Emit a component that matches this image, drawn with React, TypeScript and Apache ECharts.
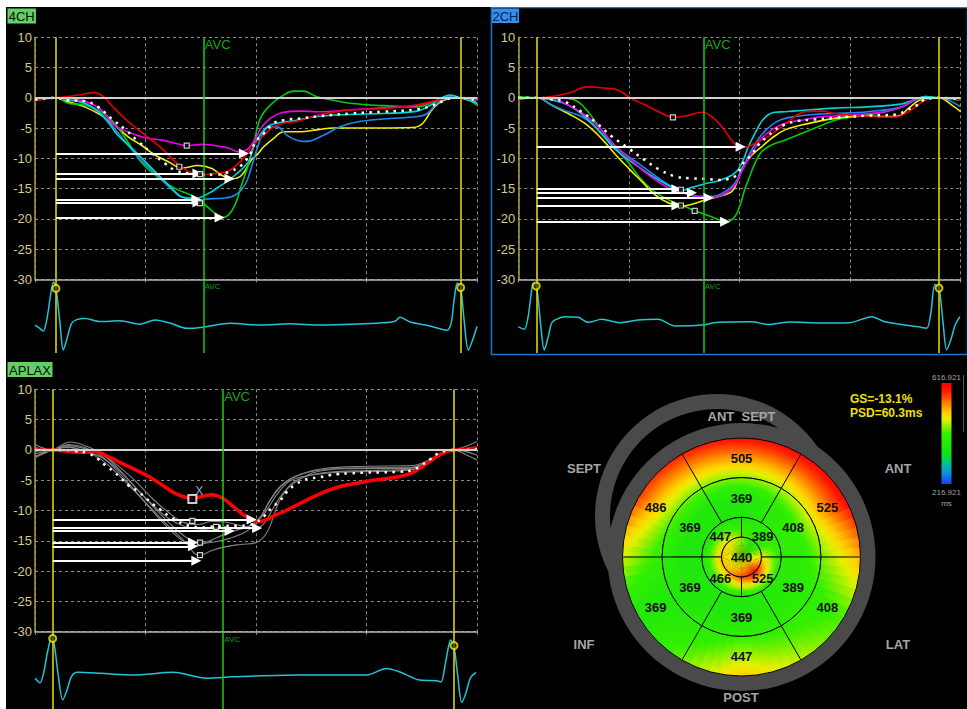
import React, { useEffect, useRef } from 'react';
import * as echarts from 'echarts';

type Pt = [number, number];

// ================= 4CH =================
const FOUR_RWAVE = [19, 385.2];
const FOUR_AVC = 152.3;
const fourRed: Pt[] = [[0,-0.4],[10,-0.2],[19,0],[30,0.2],[39,0.45],[54,0.85],[62,0.2],[69,-1.2],[81,-3.4],[100,-6.2],[115,-8.4],[127,-10.6],[139,-12.2],[151,-12.7],[163,-12.5],[175,-12.1],[187,-10.3],[198,-7.8],[207,-6.2],[216,-4.8],[225,-4.2],[237,-3.9],[255,-2.9],[285,-2.0],[315,-1.8],[345,-1.2],[364,-0.4],[376,0],[385,0],[400,-0.2]];
const fourMagenta: Pt[] = [[0,-0.4],[19,0],[30,-0.2],[45,-0.55],[60,-2.0],[72,-4.5],[84,-5.6],[100,-6.6],[115,-7.0],[127,-7.5],[137,-7.9],[151,-7.7],[163,-7.9],[175,-8.3],[184,-8.9],[193,-8.4],[201,-6.2],[204,-5.1],[213,-3.4],[225,-2.4],[240,-2.2],[255,-2.3],[285,-2.0],[315,-1.65],[345,-1.3],[364,-0.4],[376,0],[385,0],[400,-0.4]];
const fourYellow: Pt[] = [[0,-0.3],[19,0],[30,-0.66],[45,-1.5],[60,-2.9],[72,-4.5],[84,-6.4],[96,-7.8],[109,-9.5],[121,-10.6],[133,-11.6],[148,-11.2],[160,-11.7],[169,-12.8],[178,-13.4],[187,-12.8],[196,-10.2],[201,-9.4],[207,-8.1],[216,-6.7],[225,-5.6],[240,-5.6],[255,-5.3],[270,-5.0],[300,-5.0],[342,-4.9],[351,-4.2],[360,-1.8],[370,-0.4],[385,0],[400,-0.9]];
const fourCyan: Pt[] = [[0,-0.3],[19,0],[30,-0.2],[45,-0.9],[57,-2.3],[66,-4.0],[75,-6.2],[88,-8.4],[100,-10.6],[112,-12.8],[124,-15.0],[133,-16.4],[145,-16.6],[157,-15.8],[169,-14.4],[181,-12.8],[193,-10.6],[197,-8.6],[201,-6.9],[210,-4.8],[219,-4.2],[231,-3.9],[255,-3.1],[285,-2.75],[315,-2.6],[346,-2.2],[358,-1.2],[370,0.16],[376,0.44],[385,0],[400,-0.9]];
const fourBlue: Pt[] = [[0,-0.5],[19,0],[30,-0.4],[45,-0.9],[60,-2.6],[72,-5.1],[84,-7.8],[96,-10.3],[109,-12.5],[121,-14.7],[133,-16.4],[145,-16.9],[157,-16.7],[169,-16.6],[181,-16.1],[190,-14.4],[195,-12],[201,-8.4],[207,-5.6],[213,-4.8],[219,-4.8],[228,-6.2],[237,-7.0],[246,-7.2],[261,-6.2],[276,-4.8],[291,-4.0],[315,-3.5],[346,-3.1],[355,-2.6],[364,-0.9],[376,0.16],[385,0],[400,-0.4]];
const fourGreen: Pt[] = [[0,-0.3],[19,0],[30,-0.9],[45,-1.2],[60,-2.3],[72,-4.2],[84,-7.3],[96,-10.6],[109,-12.8],[121,-14.4],[133,-15.5],[145,-16.4],[154,-17.7],[163,-19.1],[169,-19.8],[175,-19.4],[181,-17.7],[187,-14.4],[193,-11.1],[198,-7.5],[204,-3.4],[213,-1.2],[225,0.44],[234,1.1],[243,1.1],[255,0.17],[270,-0.4],[285,-0.9],[315,-1.3],[346,-1.5],[364,-0.4],[376,0],[385,0],[400,-1.2]];
const fourAvg: Pt[] = [[0,-0.3],[19,0],[30,-0.4],[45,-0.55],[57,-1.5],[69,-3.4],[82,-5.3],[94,-7.3],[106,-9.2],[118,-10.9],[127,-12.0],[139,-12.5],[151,-12.7],[163,-12.7],[175,-12.3],[187,-11.1],[196,-8.9],[199,-7.4],[207,-5.9],[216,-4.2],[225,-3.7],[240,-3.4],[255,-3.1],[285,-2.6],[315,-2.3],[346,-1.9],[361,-1.2],[376,-0.1],[385,0],[400,-0.4]];
// [peak strain, time of peak]
const fourArrows: Pt[] = [[-9.2,189],[-12.5,147],[-13.4,176],[-16.8,146],[-17.3,147],[-19.8,167]];
const fourMarkers: Pt[] = [[137.3,-7.9],[130.6,-11.4],[149.3,-12.6],[149.3,-17.4]];
const fourEcg: Pt[] = [[0,-0.1],[4,-0.2],[7.5,-0.3],[11,0.15],[14.5,1.0],[16.8,1.33],[19,1.12],[22.5,0.0],[25.6,-0.93],[29,-0.55],[33,-0.05],[37.7,0.08],[45,0.12],[58.8,0.02],[77,0.04],[95,-0.07],[108.6,0.07],[122,-0.03],[137.3,-0.21],[152,-0.17],[176.5,-0.04],[203.6,-0.1],[230.8,-0.06],[258,-0.1],[285,-0.07],[312,-0.03],[325.8,0.03],[330.3,0.16],[339.4,0],[357.5,-0.13],[372.6,-0.27],[376.5,-0.05],[379.5,0.8],[382.2,1.3],[385.2,1.15],[388.5,0.0],[392.1,-0.93],[396,-0.6],[400,-0.15]];
const fourEcgMarks: Pt[] = [[19,1.12],[385.2,1.15]];

// ================= 2CH =================
const TWO_RWAVE = [16.6, 380.4];
const TWO_AVC = 167.3;
const twoRed: Pt[] = [[0,0],[17,0],[30,0.2],[45,0.74],[63,1.8],[78,1.6],[90,1.3],[102,-0.1],[115,-1.2],[127,-2.3],[140,-3.2],[151,-3.0],[166,-2.4],[175,-3.1],[184,-4.8],[193,-7.0],[199,-8.1],[205,-8.2],[214,-7.5],[226,-6.4],[238,-4.8],[250,-3.1],[259,-2.3],[274,-2.2],[286,-2.6],[316,-3.1],[341,-3.2],[350,-2.6],[359,-1.5],[368,-0.36],[380,0],[400,-0.4]];
const twoGreen: Pt[] = [[0,0.2],[17,0],[45,-0.1],[54,-0.64],[63,-2.3],[75,-5.3],[87,-8.1],[100,-10.8],[109,-13.0],[121,-15.2],[136,-16.9],[151,-18.0],[166,-19.1],[181,-20.1],[188,-20.5],[196,-19.6],[201,-17.5],[205,-15],[208,-13.6],[214,-10.8],[220,-8.9],[229,-7.8],[241,-7.0],[256,-5.9],[271,-4.8],[286,-3.7],[301,-3.2],[316,-2.8],[332,-2.3],[347,-1.5],[359,-0.36],[368,0.2],[380,0],[400,-0.4]];
const twoCyan: Pt[] = [[0,-0.2],[17,0],[30,-0.36],[45,-1.2],[60,-3.1],[75,-5.9],[87,-8.4],[100,-10.3],[115,-12.2],[127,-13.6],[139,-14.8],[148,-15.3],[157,-14.8],[169,-14.2],[181,-13.7],[193,-12.8],[199,-11.8],[204,-10],[208,-8.1],[214,-5.9],[220,-3.9],[226,-2.8],[232,-2.4],[241,-2.3],[256,-2.1],[286,-1.7],[316,-1.5],[347,-1.0],[359,-0.25],[368,0.2],[380,0],[400,-0.1]];
const twoBlue: Pt[] = [[0,-0.25],[17,0],[30,-1.2],[45,-2.3],[57,-3.1],[66,-4.2],[78,-6.4],[90,-8.4],[102,-10.0],[115,-11.7],[127,-13.3],[139,-14.7],[151,-15.8],[163,-16.3],[175,-16.3],[187,-15.5],[196,-14.1],[202,-11.9],[211,-8.6],[220,-6.1],[229,-4.5],[238,-3.6],[250,-3.1],[271,-2.7],[286,-2.6],[316,-2.3],[347,-1.5],[359,-0.36],[380,0],[400,-1.5]];
const twoMagenta: Pt[] = [[0,-0.1],[17,0],[30,-0.1],[45,-1.2],[60,-2.8],[75,-5.3],[87,-7.8],[100,-10.0],[112,-11.9],[124,-13.6],[136,-14.9],[151,-15.8],[163,-16.3],[172,-16.6],[184,-16.1],[193,-15.0],[198,-13.8],[202,-12.2],[211,-9.2],[220,-6.7],[229,-5.3],[241,-4.2],[256,-3.7],[271,-3.2],[286,-3.0],[301,-2.8],[316,-2.6],[332,-2.3],[347,-1.5],[362,-0.1],[380,0],[400,0]];
const twoYellow: Pt[] = [[0,0],[17,0],[30,-1.2],[45,-2.6],[60,-4.2],[75,-6.7],[87,-9.2],[100,-11.7],[112,-13.9],[124,-16.1],[136,-17.4],[148,-17.9],[157,-17.6],[169,-16.9],[181,-16.3],[193,-15.5],[198,-13.8],[202,-11.7],[211,-9.5],[220,-8.1],[229,-6.7],[241,-5.3],[256,-4.5],[271,-3.9],[286,-3.4],[301,-3.1],[316,-3.0],[332,-3.1],[344,-3.0],[353,-1.7],[365,-0.25],[380,0],[392,-1.2],[400,-2.3]];
const twoAvg: Pt[] = [[0,0],[17,0],[30,-0.25],[42,-0.64],[57,-2.3],[71,-4.2],[84,-6.3],[100,-8.4],[113,-10.1],[127,-11.8],[142,-13.0],[155,-13.3],[169,-13.4],[183,-13.6],[190,-13.4],[197,-12.8],[204,-10.6],[210,-9.6],[217,-7.8],[225,-6.4],[232,-5.3],[240,-4.5],[253,-3.8],[267,-3.6],[286,-3.3],[316,-2.95],[344,-2.7],[350,-2.1],[359,-1.4],[365,-0.5],[372,-0.1],[380,0],[400,-0.25]];
const twoArrows: Pt[] = [[-8.1,201],[-15.1,143],[-15.7,157],[-16.5,172],[-17.8,143],[-20.5,187]];
const twoMarkers: Pt[] = [[139.8,-3.25],[147,-15.2],[147,-17.8],[159.5,-18.7]];
const twoEcg: Pt[] = [[0,-0.16],[5.4,-0.24],[9,0.2],[11.5,0.9],[13.6,1.29],[16.6,1.15],[20,0.0],[23.5,-0.93],[27,-0.5],[30,-0.05],[33.2,0.07],[42.2,0.18],[54,0.16],[63.3,-0.01],[75.4,0.09],[92,-0.02],[108.2,0.07],[126.3,0.09],[141.7,-0.13],[165.8,-0.1],[180.5,-0.01],[211,0.01],[226,-0.08],[245.6,0],[272.5,-0.03],[299.7,-0.02],[319.5,0.18],[331.5,0.01],[361.6,-0.16],[369.2,-0.21],[373,0.3],[376.7,1.25],[380.4,1.13],[384,0.0],[387.3,-0.93],[391,-0.6],[395,-0.1],[399.3,0.18]];
const twoEcgMarks: Pt[] = [[16.2,1.2],[380.4,1.13]];

// ================= APLAX =================
const APLAX_RWAVE = [16, 379.2];
const APLAX_AVC = 169.9;
const aplaxGrey1: Pt[] = [[0,-1.1],[16,0],[30,0.4],[45,-0.2],[60,-1.6],[75,-4.0],[90,-6.8],[105,-9.6],[120,-12.4],[135,-15.0],[149,-17.4],[160,-16.6],[172,-16.0],[186,-15.6],[200,-15.3],[210,-13.6],[221,-8.5],[232,-5.6],[245,-4.4],[265,-3.7],[300,-3.4],[340,-3.2],[355,-2.2],[370,-0.5],[379,0],[390,-0.8],[400,-1.65]];
const aplaxGrey2: Pt[] = [[0,-0.6],[16,0],[32,1.3],[45,0.7],[60,-0.6],[75,-3.0],[90,-6.0],[105,-9.0],[120,-11.8],[135,-14.2],[149,-15.4],[162,-15.2],[176,-14.6],[190,-13.6],[202,-11.8],[212,-8.5],[222,-6.0],[235,-4.4],[255,-3.4],[290,-3.0],[340,-2.9],[355,-2.0],[370,-0.4],[379,0],[390,0.6],[400,1.4]];
const aplaxGrey3: Pt[] = [[0,0.4],[16,0],[30,0.9],[45,0.4],[60,-1.0],[75,-3.6],[90,-6.6],[105,-9.8],[120,-12.8],[135,-15.2],[145,-15.9],[158,-15.0],[172,-13.9],[186,-13.0],[196,-12.4],[205,-10.8],[214,-8.0],[225,-5.6],[240,-4.0],[260,-3.1],[300,-2.7],[340,-2.6],[355,-1.8],[370,-0.3],[379,0],[400,0.4]];
const aplaxGrey4: Pt[] = [[0,0.9],[16,0],[30,0.7],[45,0.2],[60,-0.7],[75,-2.6],[90,-5.0],[105,-7.8],[120,-10.2],[135,-12.0],[148,-12.3],[160,-11.8],[172,-11.9],[186,-12.5],[200,-12.9],[207,-12.2],[215,-9.8],[225,-7.0],[238,-5.0],[255,-3.6],[280,-3.1],[340,-3.0],[355,-2.1],[370,-0.6],[379,0],[400,0.1]];
const aplaxGrey5: Pt[] = [[0,-1.3],[16,0],[30,0.5],[45,-0.2],[60,-1.2],[75,-3.2],[90,-6.0],[105,-8.8],[120,-11.2],[135,-12.6],[150,-13.1],[163,-13.3],[176,-13.4],[188,-13.0],[198,-12.2],[208,-10.4],[218,-7.6],[230,-5.2],[248,-4.2],[275,-3.7],[320,-3.5],[345,-3.2],[358,-2.0],[370,-0.5],[379,0],[400,-0.9]];
const aplaxRed: Pt[] = [[0,0],[16,0],[30,-0.28],[42,-0.4],[54,-0.28],[63,-0.8],[75,-1.9],[91,-3.3],[103,-4.4],[115,-5.8],[127,-7.2],[136,-7.8],[142,-8.0],[151,-7.7],[160,-7.4],[169,-7.9],[178,-9.1],[187,-10.5],[196,-11.5],[201,-11.8],[207,-11.7],[216,-10.9],[225,-10.2],[237,-9.1],[249,-8.0],[261,-7.0],[273,-6.2],[285,-5.7],[300,-5.2],[315,-4.8],[330,-4.4],[342,-3.7],[355,-2.2],[367,-0.7],[379,0],[391,0.1],[400,0.4]];
const aplaxAvg: Pt[] = [[0,0],[16,0],[27,0],[36,-0.17],[48,-0.55],[57,-1.5],[64,-2.6],[72,-3.7],[78,-4.7],[85,-5.9],[93,-6.8],[100,-7.9],[107,-9.0],[114,-9.9],[121,-10.9],[128,-11.6],[135,-12.3],[142,-12.6],[149,-12.8],[157,-12.7],[164,-12.6],[172,-12.5],[186,-12.5],[193,-12.4],[199,-12.1],[207,-11.0],[214,-9.6],[222,-8.3],[228,-6.9],[235,-5.8],[243,-5.0],[250,-4.7],[258,-4.5],[266,-4.2],[273,-4.0],[285,-3.86],[300,-3.75],[315,-3.7],[330,-3.6],[342,-3.3],[350,-2.5],[358,-1.5],[365,-0.55],[373,-0.1],[379,0],[390,0],[400,0.1]];
const aplaxArrows: Pt[] = [[-11.5,196],[-12.9,201],[-13.4,176],[-15.3,143],[-15.9,143],[-18.3,146]];
const aplaxMarkers: Pt[] = [[142.4,-11.7],[163.8,-12.7],[149.3,-15.3],[149.3,-17.35]];
const aplaxSelected: Pt[] = [[142.4,-8.1]];
const aplaxEcg: Pt[] = [[0,-0.11],[4.5,-0.26],[8,0.1],[11.5,0.8],[15.1,1.25],[17.5,1.0],[21,0.0],[25.1,-0.83],[29,-0.5],[33,-0.05],[38.3,0.09],[58.8,0.06],[88.7,0],[125.2,0.09],[155.4,-0.11],[179.5,-0.06],[239.8,0],[300.2,0],[318.3,0.22],[330.3,0.1],[348.4,-0.17],[363.5,-0.19],[367.4,-0.23],[371,0.3],[374,0.9],[376.2,1.17],[379.2,0.95],[382.5,0.0],[386.2,-0.91],[390,-0.6],[394,-0.1],[399.1,0.09]];
const aplaxEcgMarks: Pt[] = [[16,1.22],[379.2,0.98]];

// ================= Bull's eye =================
const BASAL = [525, 505, 486, 369, 447, 408]; // centred at 30°,90°,150°,210°,270°,330°
const MID = [408, 369, 369, 369, 369, 389];
const APICAL = [389, 447, 466, 525]; // centred at 45°,135°,225°,315°
const APEX = 440;
const SCALE_MIN = 216.921;
const SCALE_MAX = 616.921;
const GS_TEXT = 'GS=-13.1%';
const PSD_TEXT = 'PSD=60.3ms';

const FONT = '"Liberation Sans", Arial, sans-serif';
const C = { red: '#e40000', magenta: '#f000f0', yellow: '#f0f000', cyan: '#00d4d4', blue: '#1e88f0', green: '#00cc00', grey: '#838383' };

const HEAT_STOPS: [number, string][] = [[0,'#1f3dff'],[0.12,'#0a98dc'],[0.22,'#00c87a'],[0.3,'#14e214'],[0.5,'#34f000'],[0.57,'#8cf000'],[0.64,'#e6f000'],[0.7,'#ffd200'],[0.78,'#ff9000'],[0.86,'#ff4a00'],[0.93,'#ff1400'],[1,'#ff0000']];
function rgb(h: string) { const n = parseInt(h.slice(1), 16); return [(n >> 16) & 255, (n >> 8) & 255, n & 255]; }
function heat(v: number) {
  const t = Math.max(0, Math.min(1, (v - SCALE_MIN) / (SCALE_MAX - SCALE_MIN)));
  for (let i = 1; i < HEAT_STOPS.length; i++) {
    if (t <= HEAT_STOPS[i][0]) {
      const [t0, c0] = HEAT_STOPS[i - 1]; const [t1, c1] = HEAT_STOPS[i];
      const f = (t - t0) / (t1 - t0 || 1); const a = rgb(c0), b = rgb(c1);
      return `rgb(${Math.round(a[0] + (b[0] - a[0]) * f)},${Math.round(a[1] + (b[1] - a[1]) * f)},${Math.round(a[2] + (b[2] - a[2]) * f)})`;
    }
  }
  return HEAT_STOPS[HEAT_STOPS.length - 1][1];
}
// smooth shading of the bull's-eye between neighbouring segment values
function circInterp(arr: number[], start: number, step: number, th: number) {
  const n = arr.length;
  const pos = (th - start) / step;
  const i0 = Math.floor(pos); const f = pos - i0;
  const a = arr[((i0 % n) + n) % n], b = arr[(((i0 + 1) % n) + n) % n];
  return a * (1 - f) + b * f;
}
function shade(u: number, th: number) {
  const m = circInterp(MID, 30, 60, th);
  if (u >= 3) { const b = circInterp(BASAL, 30, 60, th); const rim = b + 0.7 * (b - m); return m + (rim - m) * (u - 3) / 3; }
  if (u >= 2) return m;
  const a = circInterp(APICAL, 45, 90, th);
  const ab = a + 0.5 * (a - m);
  if (u >= 1) return m + (ab - m) * (2 - u);
  return APEX + (ab - APEX) * u;
}

function buildBull() {
  const rows: number[][] = [];
  BASAL.forEach((v, i) => rows.push([4, 6, 60 * i, 60 * i + 60, v]));
  MID.forEach((v, i) => rows.push([2, 4, 60 * i, 60 * i + 60, v]));
  APICAL.forEach((v, j) => rows.push([1, 2, 90 * j, 90 * j + 90, v]));
  rows.push([0, 1, 0, 360, APEX]);
  return rows;
}

interface Panel {
  sx: number; ex: number;
  rWave: number[]; avc: number;
  curves: { data: Pt[]; color: string; width: number }[];
  avg: Pt[]; arrows: Pt[]; markers: Pt[];
  ecg: Pt[]; ecgMarks: Pt[]; avcLabelY: number; avcSmallY: number;
}

const panels: Panel[] = [
  { sx: 0, ex: 1, rWave: FOUR_RWAVE, avc: FOUR_AVC, avg: fourAvg, arrows: fourArrows, markers: fourMarkers, ecg: fourEcg, ecgMarks: fourEcgMarks, avcLabelY: 8.75, avcSmallY: 1.17,
    curves: [
      { data: fourYellow, color: C.yellow, width: 1.6 }, { data: fourGreen, color: C.green, width: 1.6 },
      { data: fourBlue, color: C.blue, width: 1.6 }, { data: fourCyan, color: C.cyan, width: 1.6 },
      { data: fourMagenta, color: C.magenta, width: 1.6 }, { data: fourRed, color: C.red, width: 1.6 },
    ] },
  { sx: 2, ex: 3, rWave: TWO_RWAVE, avc: TWO_AVC, avg: twoAvg, arrows: twoArrows, markers: twoMarkers, ecg: twoEcg, ecgMarks: twoEcgMarks, avcLabelY: 8.75, avcSmallY: 1.18,
    curves: [
      { data: twoGreen, color: C.green, width: 1.6 }, { data: twoYellow, color: C.yellow, width: 1.6 },
      { data: twoBlue, color: C.blue, width: 1.6 }, { data: twoCyan, color: C.cyan, width: 1.6 },
      { data: twoMagenta, color: C.magenta, width: 1.6 }, { data: twoRed, color: C.red, width: 1.6 },
    ] },
  { sx: 4, ex: 5, rWave: APLAX_RWAVE, avc: APLAX_AVC, avg: aplaxAvg, arrows: aplaxArrows, markers: aplaxMarkers, ecg: aplaxEcg, ecgMarks: aplaxEcgMarks, avcLabelY: 8.8, avcSmallY: 1.19,
    curves: [
      { data: aplaxGrey1, color: C.grey, width: 1.1 }, { data: aplaxGrey2, color: C.grey, width: 1.1 },
      { data: aplaxGrey3, color: C.grey, width: 1.1 }, { data: aplaxGrey4, color: C.grey, width: 1.1 },
      { data: aplaxGrey5, color: C.grey, width: 1.1 }, { data: aplaxRed, color: '#ff0000', width: 3.5 },
    ] },
];

const YELLOW = '#e8e200';
const AVCG = '#14cc14';

function vLines(p: Panel) {
  return [
    ...p.rWave.map((x) => ({ xAxis: x, lineStyle: { color: YELLOW, width: 1.5, type: 'solid' } })),
    { xAxis: p.avc, lineStyle: { color: AVCG, width: 1.5, type: 'solid' } },
  ];
}

function panelSeries(p: Panel) {
  const s: any[] = [];
  const ax = { xAxisIndex: p.sx, yAxisIndex: p.sx };
  const ex = { xAxisIndex: p.ex, yAxisIndex: p.ex };
  s.push({ type: 'line', ...ax, data: [], silent: true, z: 1,
    markLine: { silent: true, symbol: ['none', 'none'], label: { show: false }, emphasis: { disabled: true },
      data: [{ yAxis: 0, lineStyle: { color: '#d0d0d0', width: 2, type: 'solid' } }, ...vLines(p)] } });
  p.curves.forEach((c) => s.push({ type: 'line', ...ax, data: c.data, smooth: 0.4, symbol: 'none', silent: true, z: 3,
    lineStyle: { color: c.color, width: c.width } }));
  s.push({ type: 'line', ...ax, data: p.avg, smooth: 0.4, symbol: 'none', silent: true, z: 4,
    lineStyle: { color: '#ffffff', width: 2.5, type: [2.5, 5.5] } });
  s.push({ type: 'lines', coordinateSystem: 'cartesian2d', ...ax, silent: true, z: 5,
    data: p.arrows.map(([y, x]) => ({ coords: [[p.rWave[0], y], [x, y]] })),
    symbol: ['none', 'triangle'], symbolSize: 10, lineStyle: { color: '#ffffff', width: 2, opacity: 1, curveness: 0 } });
  s.push({ type: 'scatter', ...ax, data: p.markers, symbol: 'rect', symbolSize: 5, silent: true, z: 6,
    itemStyle: { color: '#000', borderColor: '#ffffff', borderWidth: 1.2 } });
  s.push({ type: 'scatter', ...ax, data: [[p.avc, p.avcLabelY]], symbolSize: 1, silent: true, z: 6,
    itemStyle: { color: 'rgba(0,0,0,0)' },
    label: { show: true, formatter: 'AVC', position: 'right', distance: 1, color: '#22d022', fontSize: 13, fontFamily: FONT } });
  // ECG
  s.push({ type: 'line', ...ex, data: p.ecg, smooth: 0.3, symbol: 'none', silent: true, z: 3,
    lineStyle: { color: '#22c4d6', width: 1.5 },
    markLine: { silent: true, symbol: ['none', 'none'], label: { show: false }, emphasis: { disabled: true }, data: vLines(p) } });
  s.push({ type: 'scatter', ...ex, data: p.ecgMarks, symbol: 'circle', symbolSize: 7, silent: true, z: 5,
    itemStyle: { color: 'rgba(40,40,0,0.9)', borderColor: '#f4ec00', borderWidth: 2 } });
  s.push({ type: 'scatter', ...ex, data: [[p.avc, p.avcSmallY]], symbolSize: 1, silent: true, z: 6,
    itemStyle: { color: 'rgba(0,0,0,0)' },
    label: { show: true, formatter: 'AVC', position: 'right', distance: 1, color: '#1ec01e', fontSize: 8, fontFamily: FONT } });
  return s;
}

const DASH = '#8a8a8a';
function strainX(gridIndex: number) {
  return { type: 'value', gridIndex, min: 0, max: 400, interval: 100,
    axisLabel: { show: false }, axisTick: { show: true, length: 3, lineStyle: { color: '#9a9a9a' } },
    axisLine: { show: true, onZero: false, lineStyle: { color: '#b4b4b4', width: 1.5 } },
    splitLine: { show: true, lineStyle: { color: DASH, type: [3, 3], width: 1 } } };
}
function strainY(gridIndex: number) {
  return { type: 'value', gridIndex, min: -30, max: 10, interval: 5,
    axisLabel: { color: '#d4ca90', fontSize: 13, fontFamily: FONT, margin: 3 },
    axisTick: { show: false },
    axisLine: { show: true, onZero: false, lineStyle: { color: '#a8a036', width: 1.5 } },
    splitLine: { show: true, lineStyle: { color: DASH, type: [3, 3], width: 1 } } };
}
function ecgX(gridIndex: number) { return { type: 'value', gridIndex, min: 0, max: 400, show: false }; }
function ecgY(gridIndex: number, min: number, max: number) { return { type: 'value', gridIndex, min, max, show: false }; }

function labelBox(x: number, y: number, w: number, h: number, text: string, fill: string, color: string) {
  return [
    { type: 'rect', z: 20, shape: { x, y, width: w, height: h }, style: { fill } },
    { type: 'text', z: 21, x: x + w / 2, y: y + h / 2 + 0.5,
      style: { text, fill: color, font: `13px ${FONT}`, align: 'center', verticalAlign: 'middle', textAlign: 'center', textVerticalAlign: 'middle' } },
  ];
}
function gText(x: number, y: number, text: string, fill: string, font: string, align = 'center') {
  return { type: 'text', z: 21, x, y, style: { text, fill, font, align, verticalAlign: 'middle', textAlign: align, textVerticalAlign: 'middle' } };
}

export default function App() {
  const ref = useRef<HTMLDivElement>(null);
  useEffect(() => {
    if (!ref.current) return;
    const chart = echarts.init(ref.current, null, { renderer: 'svg' });
    const bull = buildBull();
    const series: any[] = [];
    panels.forEach((p) => series.push(...panelSeries(p)));
    const D = Math.PI / 180;
    series.push({
      type: 'custom', coordinateSystem: 'polar', data: bull, silent: true, z: 4,
      renderItem: (params: any, api: any) => {
        const u0 = api.value(0), u1 = api.value(1), a0 = api.value(2), a1 = api.value(3), v = api.value(4);
        const c = api.coord([0, 0]);
        const e1 = api.coord([1, 0]);
        const k = Math.hypot(e1[0] - c[0], e1[1] - c[1]);
        const R0 = u0 * k, R1 = u1 * k;
        const children: any[] = [];
        const step = 5;
        for (let th = a0; th < a1 - 1e-6; th += step) {
          const tb = Math.min(th + step, a1);
          const tc = (th + tb) / 2;
          const stops: any[] = [];
          const NS = 8;
          for (let s = 0; s <= NS; s++) {
            const u = u0 + (u1 - u0) * s / NS;
            stops.push({ offset: u / u1, color: heat(shade(u, tc)) });
          }
          children.push({ type: 'sector',
            shape: { cx: c[0], cy: c[1], r0: R0, r: R1, startAngle: -(tb + 0.5) * D, endAngle: -(th - 0.5) * D, clockwise: true },
            style: { fill: { type: 'radial', x: c[0], y: c[1], r: R1, global: true, colorStops: stops } } });
        }
        children.push({ type: 'sector',
          shape: { cx: c[0], cy: c[1], r0: R0, r: R1, startAngle: -a1 * D, endAngle: -a0 * D, clockwise: true },
          style: { fill: 'none', stroke: '#000', lineWidth: 1 } });
        const lp = u0 === 0 ? c : api.coord([(u0 + u1) / 2, (a0 + a1) / 2]);
        children.push({ type: 'text', x: lp[0], y: lp[1] + 0.5,
          style: { text: String(v), fill: '#101010', font: `bold 13px ${FONT}`, align: 'center', verticalAlign: 'middle', textAlign: 'center', textVerticalAlign: 'middle' } });
        return { type: 'group', children };
      },
    });
    series.push({ type: 'scatter', xAxisIndex: 4, yAxisIndex: 4, data: aplaxSelected, symbol: 'rect', symbolSize: 8, silent: true, z: 7,
      itemStyle: { color: '#000', borderColor: '#ffffff', borderWidth: 2 },
      label: { show: true, formatter: 'X', position: 'inside', offset: [7, -8], color: '#c4daff', fontSize: 12, fontFamily: FONT } });

    const heatBar = HEAT_STOPS.map(([t, col]) => ({ offset: 1 - t, color: col })).reverse();
    const GREY_T = '#a6a6a6';
    const labFont = `bold 13px ${FONT}`;
    const graphic: any[] = [
      { type: 'ring', z: 0, shape: { cx: 717, cy: 516, r: 122, r0: 107 }, style: { fill: '#4a4a4a' } },
      { type: 'ring', z: 0, shape: { cx: 741.5, cy: 557, r: 134, r0: 117 }, style: { fill: '#4a4a4a' } },
      gText(741.5, 416, 'ANT  SEPT', GREY_T, labFont),
      gText(584, 468, 'SEPT', GREY_T, labFont),
      gText(898, 468, 'ANT', GREY_T, labFont),
      gText(584, 644, 'INF', GREY_T, labFont),
      gText(898, 644, 'LAT', GREY_T, labFont),
      gText(741, 697, 'POST', GREY_T, labFont),
      gText(850, 399, GS_TEXT, '#f2e000', `bold 12px ${FONT}`, 'left'),
      gText(850, 413, PSD_TEXT, '#f2e000', `bold 12px ${FONT}`, 'left'),
      { type: 'rect', z: 20, shape: { x: 941.5, y: 383, width: 10, height: 101 },
        style: { fill: { type: 'linear', x: 0, y: 0, x2: 0, y2: 1, colorStops: heatBar } } },
      gText(946.5, 377, SCALE_MAX.toFixed(3), '#a0a0a0', `8px ${FONT}`),
      gText(946.5, 492, SCALE_MIN.toFixed(3), '#a0a0a0', `8px ${FONT}`),
      gText(946.5, 503.5, 'ms', '#a0a0a0', `8px ${FONT}`),
      { type: 'line', z: 20, shape: { x1: 963.5, y1: 375, x2: 963.5, y2: 432 }, style: { stroke: '#555', lineWidth: 1 } },
      ...labelBox(7.5, 8.5, 28.5, 15, '4CH', '#63d063', '#0a0a0a'),
      ...labelBox(492, 8.5, 27, 14.5, '2CH', '#3590ea', '#07205a'),
      ...labelBox(7.5, 362, 45, 15, 'APLAX', '#63d063', '#0a0a0a'),
      { type: 'rect', z: 20, shape: { x: 491.5, y: 7.5, width: 476, height: 347 }, style: { fill: 'none', stroke: '#1c74d4', lineWidth: 1.5 } },
      { type: 'rect', z: 100, shape: { x: 0, y: 0, width: 967, height: 7 }, style: { fill: '#ffffff' } },
      { type: 'rect', z: 100, shape: { x: 0, y: 0, width: 6, height: 709 }, style: { fill: '#ffffff' } },
    ];

    chart.setOption({
      animation: false,
      backgroundColor: '#000000',
      textStyle: { fontFamily: FONT },
      grid: [
        { left: 35, top: 37.3, width: 442, height: 242 },
        { left: 35, top: 280, width: 442, height: 73 },
        { left: 518.3, top: 37.3, width: 442.4, height: 242 },
        { left: 518.3, top: 280, width: 442.4, height: 73 },
        { left: 35, top: 389.3, width: 442, height: 242.4 },
        { left: 35, top: 632, width: 442, height: 77 },
      ],
      xAxis: [strainX(0), ecgX(1), strainX(2), ecgX(3), strainX(4), ecgX(5)],
      yAxis: [strainY(0), ecgY(1, -1.03, 1.4), strainY(2), ecgY(3, -1.03, 1.4), strainY(4), ecgY(5, -1.133, 1.433)],
      polar: { center: [741.5, 557], radius: 119 },
      angleAxis: { type: 'value', min: 0, max: 360, startAngle: 0, clockwise: false, show: false },
      radiusAxis: { type: 'value', min: 0, max: 6, show: false },
      series,
      graphic,
    });
    return () => chart.dispose();
  }, []);
  return <div ref={ref} style={{ position: 'fixed', left: 0, top: 0, width: 967, height: 709 }} />;
}
